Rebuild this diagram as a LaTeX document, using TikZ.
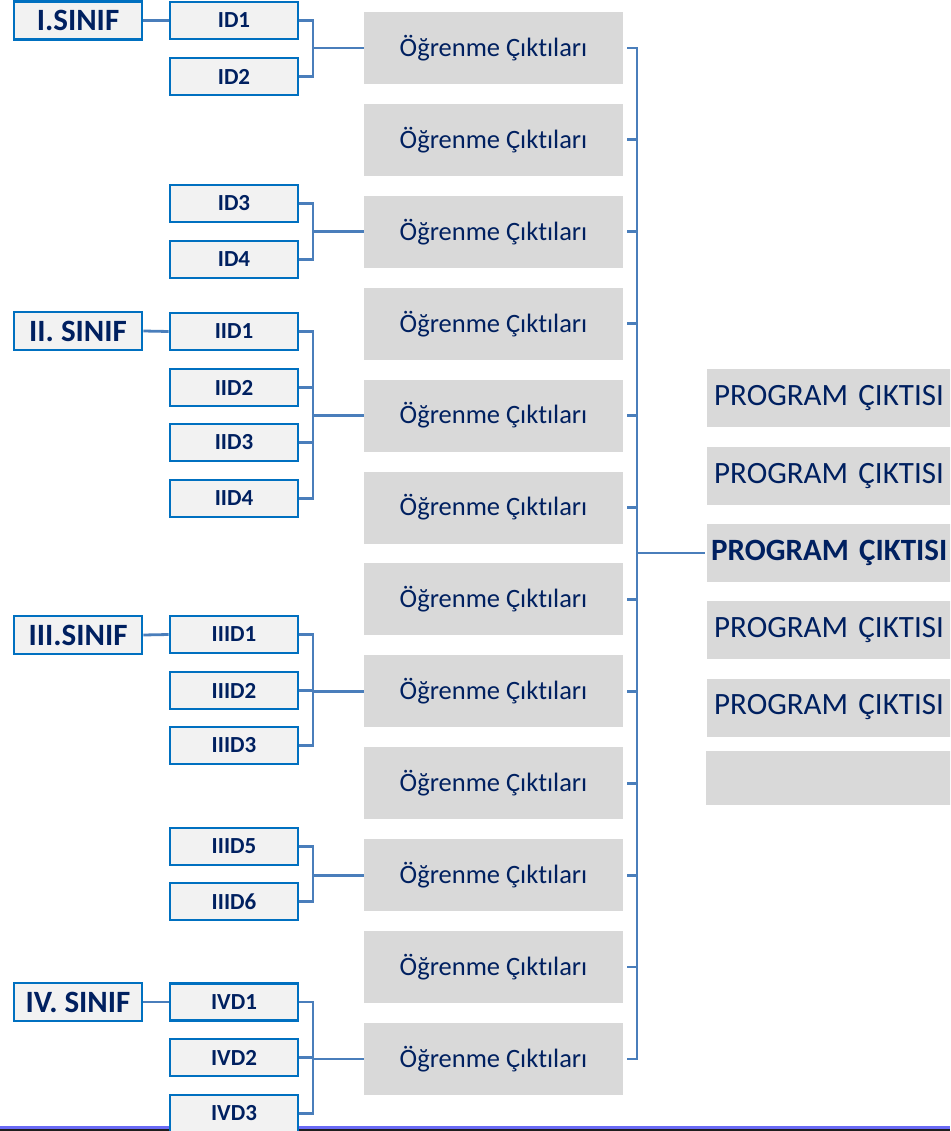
\documentclass[tikz,border=0pt]{standalone}
\usepackage{fontspec}
\setmainfont[Ligatures=NoCommon]{Carlito}
\usetikzlibrary{calc}
\definecolor{navy}{HTML}{002060}
\definecolor{boxblue}{HTML}{0070C0}
\definecolor{connc}{HTML}{4A7EBB}
\definecolor{lightfill}{HTML}{F2F2F2}
\definecolor{grayfill}{HTML}{D9D9D9}
\definecolor{stripblue}{HTML}{6A6AF5}
\definecolor{stripdark}{HTML}{1E1E1E}
\begin{document}
\begin{tikzpicture}[x=1pt,y=-1pt,
  sinif/.style={draw=boxblue, line width=2.6pt, fill=lightfill, minimum width=128pt, minimum height=38pt, inner sep=0pt, text=navy, font=\fontsize{31}{31}\selectfont\bfseries},
  dbox/.style={draw=boxblue, line width=2.6pt, fill=lightfill, minimum width=128pt, minimum height=37pt, inner sep=0pt, text=navy, font=\fontsize{23}{23}\selectfont\bfseries},
  ogr/.style={fill=grayfill, minimum width=259pt, minimum height=72pt, inner sep=0pt, text=navy, font=\fontsize{26.5}{26.5}\selectfont},
  prog/.style={fill=grayfill, anchor=west, minimum height=58pt, inner xsep=7pt, inner ysep=0pt, text width=250pt, align=left, text=navy, font=\fontsize{31}{31}\selectfont},
  cline/.style={draw=connc, line width=2.8pt}
]
\useasboundingbox (0,0) rectangle (950,1131);
\clip (0,0) rectangle (950,1131);

% bottom strip
\fill[stripblue] (0,1126) rectangle (950,1129);
\fill[stripdark] (0,1129) rectangle (950,1131);

% class boxes
\node[sinif] (S1) at (78,20.5) {I.SINIF};
\node[sinif] (S2) at (78,331) {II. SINIF};
\node[sinif] (S3) at (78,635) {III.SINIF};
\node[sinif] (S4) at (78,1002) {IV. SINIF};

% course boxes
\node[dbox] (ID1) at (234,20.5) {ID1};
\node[dbox] (ID2) at (234,76.5) {ID2};
\node[dbox] (ID3) at (234,203.5) {ID3};
\node[dbox] (ID4) at (234,259.5) {ID4};
\node[dbox] (IID1) at (234,331.5) {IID1};
\node[dbox] (IID2) at (234,387.5) {IID2};
\node[dbox] (IID3) at (234,442.5) {IID3};
\node[dbox] (IID4) at (234,498.5) {IID4};
\node[dbox] (IIID1) at (234,634.5) {IIID1};
\node[dbox] (IIID2) at (234,690.5) {IIID2};
\node[dbox] (IIID3) at (234,745.5) {IIID3};
\node[dbox] (IIID5) at (234,846.5) {IIID5};
\node[dbox] (IIID6) at (234,901.5) {IIID6};
\node[dbox] (IVD1) at (234,1002) {IVD1};
\node[dbox] (IVD2) at (234,1057.5) {IVD2};
\node[dbox] (IVD3) at (234,1113.5) {IVD3};

% learning outcome boxes
\foreach \i in {1,...,12}{
  \node[ogr] (O\i) at (493.5,{48+91.9*(\i-1)}) {Öğrenme Çıktıları};
}

% program outcome boxes
\node[prog] (P1) at (707,398) {PROGRAM ÇIKTISI};
\node[prog] (P2) at (707,476) {PROGRAM ÇIKTISI};
\node[prog, inner xsep=4pt, font=\fontsize{31}{31}\selectfont\bfseries] (P3) at (707,553) {PROGRAM ÇIKTISI};
\node[prog] (P4) at (707,630) {PROGRAM ÇIKTISI};
\node[prog] (P5) at (707,707.5) {PROGRAM ÇIKTISI};
\node[prog, minimum height=54pt] (P6) at (706,778) {};

% class -> first course
\draw[cline] (S1.east) -- (ID1.west);
\draw[cline] (S2.east) -- (IID1.west);
\draw[cline] (S3.east) -- (IIID1.west);
\draw[cline] (S4.east) -- (IVD1.west);

% course brackets
\coordinate (B) at (313,0);
\draw[cline] (ID1.east) -| (ID1.east -| B) |- (ID2.east);
\draw[cline] (O1.west) -- (O1.west -| B);

\draw[cline] (ID3.east) -| (ID3.east -| B) |- (ID4.east);
\draw[cline] (O3.west) -- (O3.west -| B);

\draw[cline] (IID1.east) -| (IID1.east -| B) |- (IID4.east);
\draw[cline] (IID2.east) -- (IID2.east -| B);
\draw[cline] (IID3.east) -- (IID3.east -| B);
\draw[cline] (O5.west) -- (O5.west -| B);

\draw[cline] (IIID1.east) -| (IIID1.east -| B) |- (IIID3.east);
\draw[cline] (IIID2.east) -- (IIID2.east -| B);
\draw[cline] (O8.west) -- (O8.west -| B);

\draw[cline] (IIID5.east) -| (IIID5.east -| B) |- (IIID6.east);
\draw[cline] (O10.west) -- (O10.west -| B);

\draw[cline] (IVD1.east) -| (IVD1.east -| B) |- (IVD3.east);
\draw[cline] (IVD2.east) -- (IVD2.east -| B);
\draw[cline] (O12.west) -- (O12.west -| B);

% right bracket
\coordinate (R) at (637,0);
\foreach \i in {1,...,12}{
  \draw[cline] ([xshift=4pt]O\i.east) -- (O\i.east -| R);
}
\draw[cline, line cap=rect] (O1.east -| R) -- (O12.east -| R);
\draw[cline] (P3.west -| R) -- ([xshift=-2pt]P3.west);
\end{tikzpicture}
\end{document}
